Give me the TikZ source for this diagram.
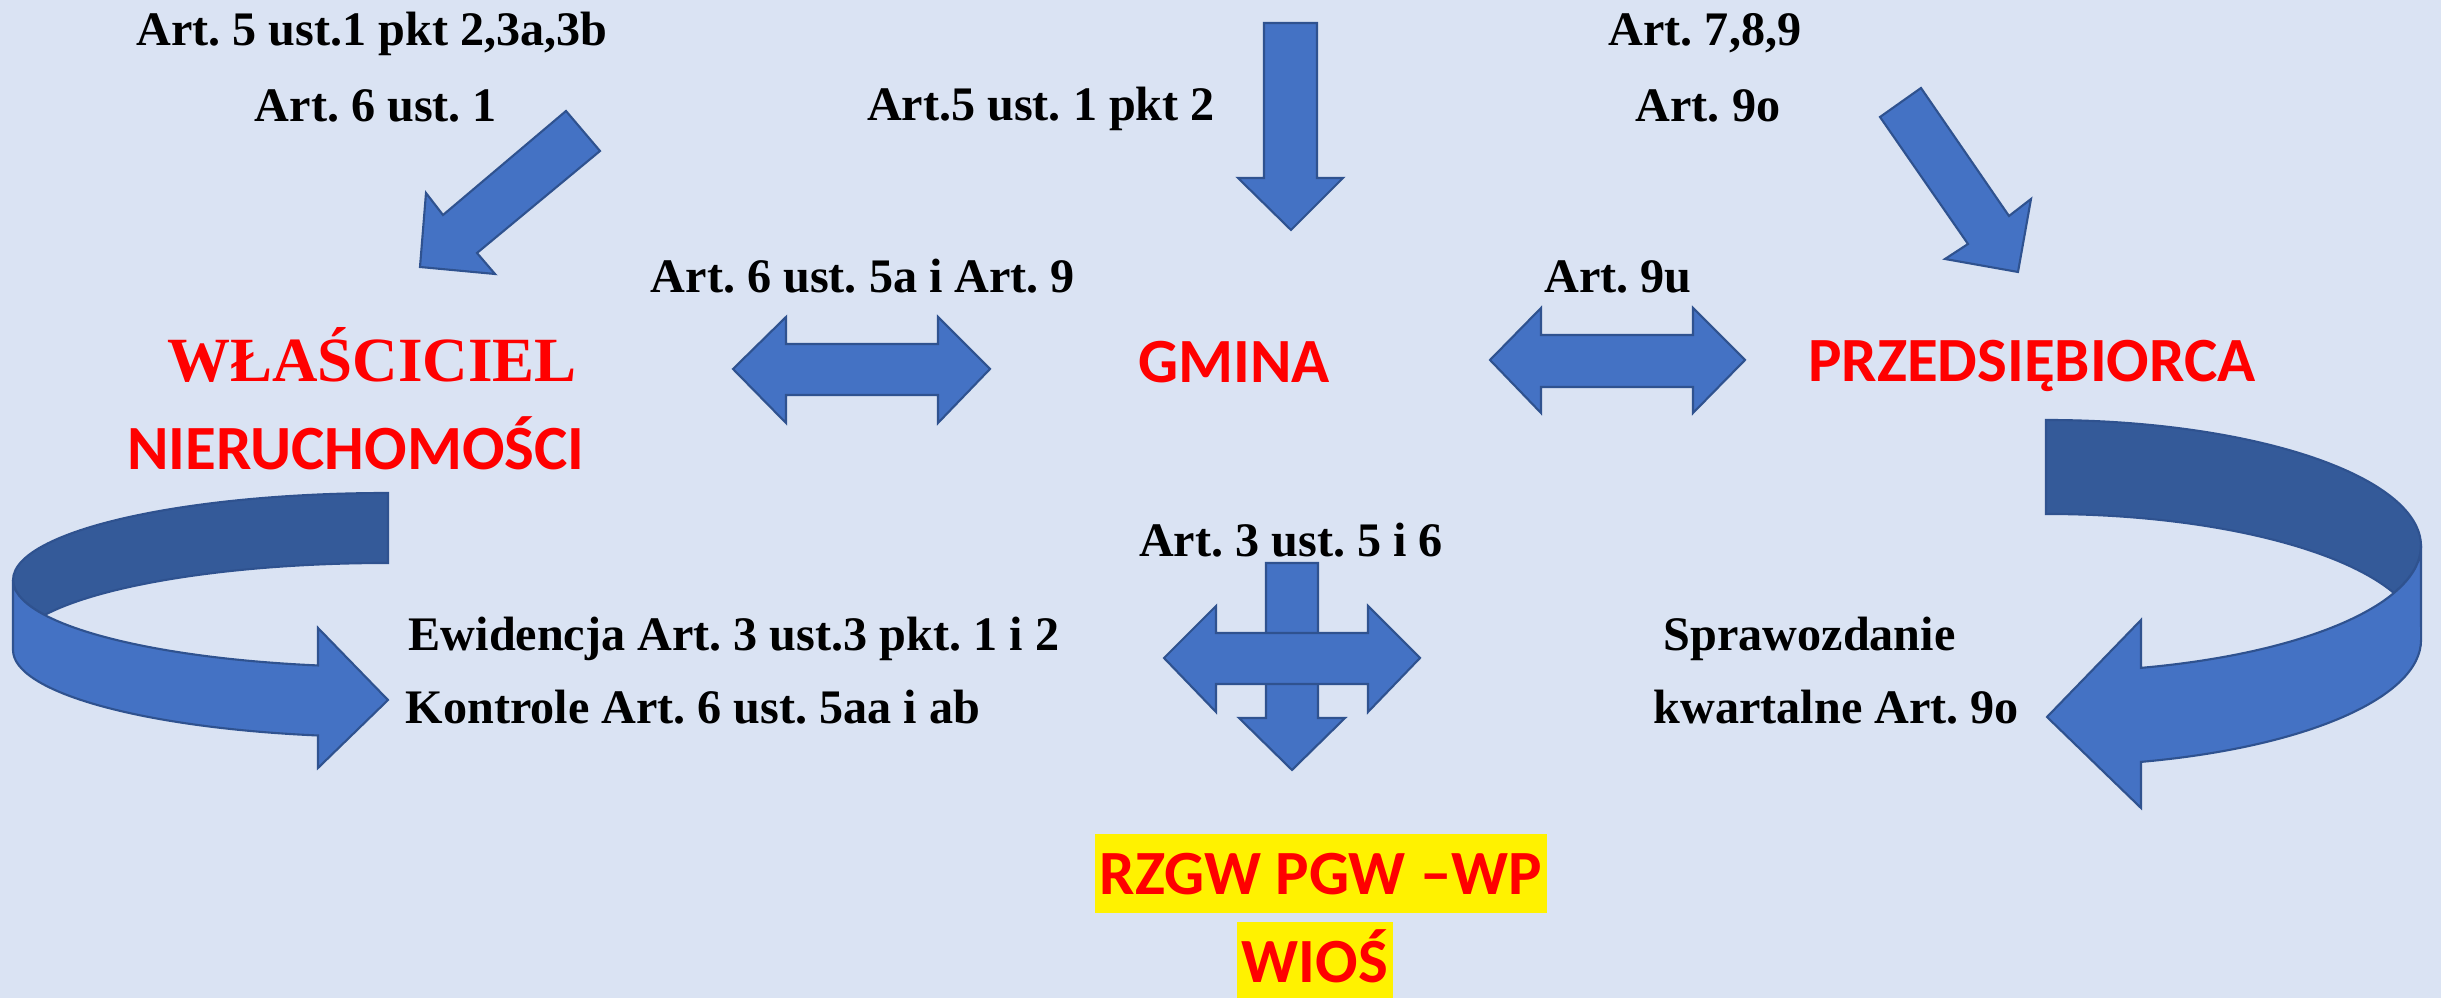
\documentclass[tikz,border=0pt]{standalone}
\usepackage{fontspec}
\setmainfont{Liberation Serif}
\newfontfamily\calibri{Carlito}
\usepackage{tikz}
\usepackage{color}
\frenchspacing

\begin{document}
\begin{tikzpicture}
			[x=0.01cm,y=0.01cm,line join=miter,
			%Styles
			art/.style={font=\fontsize{13.7}{16}\selectfont\bfseries,inner sep=0pt,anchor=base},
			actor/.style={font=\calibri\fontsize{17.9}{21}\selectfont\bfseries,text=red,inner sep=0pt,anchor=base},
			office/.style={actor,fill=yellow,inner xsep=0.05cm,inner ysep=0pt,text height=0.61cm,text depth=0.18cm},
			block arrow/.style={fill=arrowblue,draw=arrowedge,line width=0.6pt},
			back band/.style={fill=bandback,draw=arrowedge,line width=0.6pt}
			]
			
			%Colors
			\definecolor{paper}{HTML}{DAE3F3}
			\definecolor{arrowblue}{HTML}{4472C4}
			\definecolor{arrowedge}{HTML}{2F528F}
			\definecolor{bandback}{HTML}{345A99}
			
			\fill[paper] (0,0) rectangle (2441,-998);
			\useasboundingbox (0,0) rectangle (2441,-998);
			
			%The graphic
			
			% actors
			\node[actor,font=\fontsize{17.9}{21}\selectfont\bfseries] (owner) at (372,-382) {WŁAŚCICIEL};
			\node[actor] (property) at (356,-470) {NIERUCHOMOŚCI};
			\node[actor] (gmina) at (1234,-383) {GMINA};
			\node[actor] (company) at (2032,-382) {PRZEDSIĘBIORCA};
			\node[office] (rzgw) at (1321,-895) {RZGW PGW –WP};
			\node[office] (wios) at (1315,-983) {WIOŚ};
			
			% articles
			\node[art] (artOwnerA) at (372,-46) {Art. 5 ust.1 pkt 2,3a,3b};
			\node[art] (artOwnerB) at (376,-122) {Art. 6 ust. 1};
			\node[art] (artGmina) at (1041,-121) {Art.5 ust. 1 pkt 2};
			\node[art] (artCompA) at (1705,-46) {Art. 7,8,9};
			\node[art] (artCompB) at (1708,-122) {Art. 9o};
			\node[art] (artOwnerGmina) at (863,-293) {Art. 6 ust. 5a i Art. 9};
			\node[art] (artGminaComp) at (1618,-293) {Art. 9u};
			\node[art] (artOffice) at (1291,-557) {Art. 3 ust. 5 i 6};
			\node[art,anchor=base west] (register) at (408,-651) {Ewidencja Art. 3 ust.3 pkt. 1 i 2};
			\node[art,anchor=base west] (checks) at (405,-724) {Kontrole Art. 6 ust. 5aa i ab};
			\node[art,anchor=base west] (report) at (1663,-651) {Sprawozdanie};
			\node[art,anchor=base west] (quarter) at (1653,-724) {kwartalne Art. 9o};
			
			% straight arrows
			\draw[block arrow] (566,-111) -- (600,-151) -- (477,-253) -- (495,-274) -- (420,-267) -- (426,-193) -- (443,-215) -- cycle;
			\draw[block arrow] (1264,-23) -- (1317,-23) -- (1317,-178) -- (1343,-178) -- (1291,-230) -- (1238,-178) -- (1264,-178) -- cycle;
			\draw[block arrow] (1880,-117) -- (1921,-88) -- (2009,-216) -- (2031,-199) -- (2018,-272) -- (1945,-259) -- (1968,-244) -- cycle;
			
			% double arrows
			\draw[block arrow] (733,-369) -- (786,-317) -- (786,-344) -- (938,-344) -- (938,-317) -- (990,-369)
				-- (938,-423) -- (938,-395) -- (786,-395) -- (786,-423) -- cycle;
			\draw[block arrow] (1490,-360) -- (1541,-308) -- (1541,-335) -- (1693,-335) -- (1693,-308) -- (1745,-360)
				-- (1693,-413) -- (1693,-387) -- (1541,-387) -- (1541,-413) -- cycle;
			
			% cross arrow
			\draw[block arrow] (1266,-563) -- (1318,-563) -- (1318,-718) -- (1345,-718) -- (1292,-770) -- (1239,-718) -- (1266,-718) -- cycle;
			\draw[block arrow] (1164,-658) -- (1216,-606) -- (1216,-633) -- (1368,-633) -- (1368,-606) -- (1420,-658)
				-- (1368,-712) -- (1368,-684) -- (1216,-684) -- (1216,-712) -- cycle;
			
			% curved arrow, left
			\draw[back band] (388,-493) arc[start angle=90,end angle=203.72,x radius=375,y radius=87]
				arc[start angle=156.28,end angle=90,x radius=375,y radius=87] -- cycle;
			\draw[block arrow] (13,-580) arc[start angle=180,end angle=259.24,x radius=375,y radius=87]
				-- (318,-628) -- (388,-700) -- (318,-768) -- (318,-735.5)
				arc[start angle=259.24,end angle=180,x radius=375,y radius=87] -- cycle;
			
			% curved arrow, right
			\draw[back band] (2046,-420) arc[start angle=90,end angle=-21.9,x radius=375,y radius=126]
				arc[start angle=21.9,end angle=90,x radius=375,y radius=126] -- cycle;
			\draw[block arrow] (2421,-546) arc[start angle=0,end angle=-75.33,x radius=375,y radius=126]
				-- (2141,-620) -- (2047,-717) -- (2141,-808) -- (2141,-761.9)
				arc[start angle=-75.33,end angle=0,x radius=375,y radius=126] -- cycle;
		\end{tikzpicture}
\end{document}
